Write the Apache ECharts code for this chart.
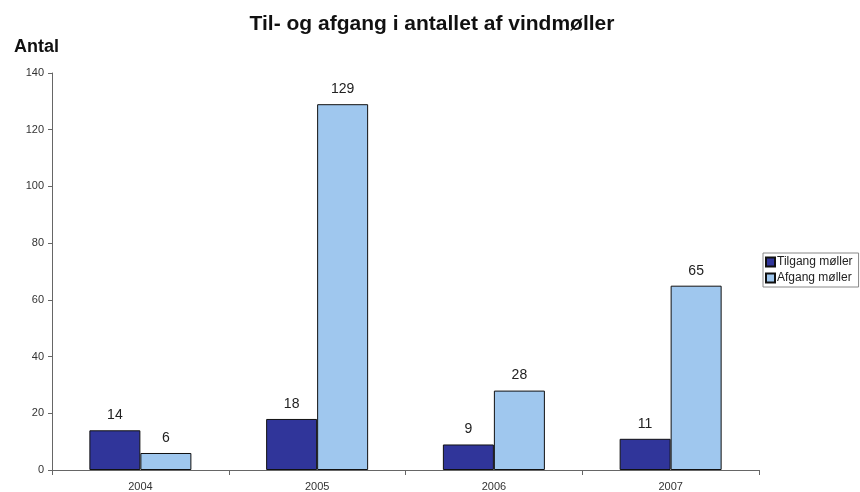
<!DOCTYPE html>
<html><head><meta charset="utf-8">
<script src="https://cdn.jsdelivr.net/npm/echarts@6/dist/echarts.min.js"></script>
<style>html,body{margin:0;padding:0;background:#fff}#c{width:860px;height:492px}</style>
</head><body><div id="c"></div>
<script>
const categories = ['2004', '2005', '2006', '2007'];
const tilgang = [14, 18, 9, 11];
const afgang = [6, 129, 28, 65];
const yTicks = [0, 20, 40, 60, 80, 100, 120, 140];

const chart = echarts.init(document.getElementById('c'));
const lbl = {show: true, position: 'top', distance: 8, color: '#222', fontFamily: 'Liberation Sans, Arial', fontSize: 14};
chart.setOption({
  animation: false,
  title: [
    {text: 'Til- og afgang i antallet af vindmøller', left: 427, textAlign: 'center', top: 9,
     textStyle: {fontFamily: 'Liberation Sans, Arial', fontWeight: 'bold', fontSize: 21, color: '#111'}},
    {text: 'Antal', left: 9, top: 33,
     textStyle: {fontFamily: 'Liberation Sans, Arial', fontWeight: 'bold', fontSize: 18, color: '#111'}}
  ],
  legend: {
    orient: 'vertical', left: 763, top: 253, itemWidth: 9, itemHeight: 9, itemGap: 4,
    padding: [3, 6, 3, 2], borderColor: '#888', borderWidth: 1,
    textStyle: {fontFamily: 'Liberation Sans, Arial', fontSize: 12, color: '#222', padding: [0, 0, 0, -3]},
    icon: 'rect', data: ['Tilgang møller', 'Afgang møller']
  },
  grid: {left: 52, right: 101, top: 73, bottom: 20, containLabel: false},
  xAxis: {
    type: 'category', data: categories,
    axisLine: {lineStyle: {color: '#666'}},
    axisTick: {show: true, length: 5, lineStyle: {color: '#666'}},
    axisLabel: {color: '#333', fontFamily: 'Liberation Sans, Arial', fontSize: 11, margin: 11}
  },
  yAxis: {
    type: 'value', min: yTicks[0], max: yTicks[yTicks.length - 1], interval: 20,
    axisLine: {show: true, lineStyle: {color: '#666'}},
    axisTick: {show: true, length: 4, lineStyle: {color: '#666'}},
    splitLine: {show: false},
    axisLabel: {color: '#333', fontFamily: 'Liberation Sans, Arial', fontSize: 11, margin: 8}
  },
  series: [
    {name: 'Tilgang møller', type: 'bar', data: tilgang, barWidth: 51, barGap: '0%',
     itemStyle: {color: '#30359a', borderColor: '#111', borderWidth: 1}, label: lbl},
    {name: 'Afgang møller', type: 'bar', data: afgang, barWidth: 51, barGap: '0%',
     itemStyle: {color: '#9fc7ee', borderColor: '#111', borderWidth: 1}, label: lbl}
  ]
});
</script></body></html>
